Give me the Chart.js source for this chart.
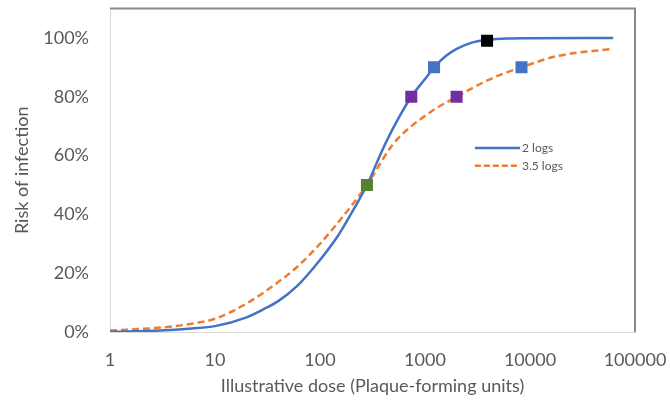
<!DOCTYPE html>
<html>
<head>
<meta charset="utf-8">
<script src="https://cdn.jsdelivr.net/npm/chart.js@4.4.0/dist/chart.umd.min.js"></script>
<style>
  html, body { margin: 0; padding: 0; background: #fff; }
  #wrap { width: 670px; height: 409px; }
</style>
</head>
<body>
<div id="wrap"><canvas id="riskChart" width="670" height="409"></canvas></div>
<script>
// dose-response curves (dose in PFU, risk as a fraction)
var doses2 = [1, 3, 6, 10, 20, 30, 40, 60, 100, 150, 200, 280, 400, 500, 740, 1000, 1220, 1600, 2000, 2800, 3900, 6000, 10000, 62000];
var risk2  = [0.001, 0.005, 0.012, 0.02, 0.05, 0.08, 0.105, 0.155, 0.245, 0.33, 0.405, 0.50, 0.625, 0.695, 0.80, 0.86, 0.90, 0.94, 0.963, 0.984, 0.993, 0.998, 0.999, 1.0];

var doses35 = [1, 3, 6, 10, 20, 40, 60, 100, 200, 280, 500, 1000, 2000, 4500, 8300, 18000, 62000];
var risk35  = [0.005, 0.015, 0.028, 0.045, 0.097, 0.17, 0.22, 0.30, 0.43, 0.50, 0.64, 0.735, 0.80, 0.865, 0.90, 0.938, 0.963];

// highlighted points
var markerDoses  = [280, 740, 1220, 3900, 2000, 8300];
var markerRisk   = [0.50, 0.80, 0.90, 0.99, 0.80, 0.90];
var markerColors = ['#548235', '#7030A0', '#4472C4', '#000000', '#7030A0', '#4472C4'];

var seriesNames = ['2 logs', '3.5 logs'];
var xTicks = [1, 10, 100, 1000, 10000, 100000];
var yTicks = [0, 0.2, 0.4, 0.6, 0.8, 1.0];

function pairs(xs, ys) {
  return xs.map(function (x, i) { return { x: x, y: ys[i] }; });
}

var textGray = '#595959';
var font18 = { family: 'Lato', size: 18 };

// legend drawn inside the plot, plus the darker top/right frame
var plotExtras = {
  id: 'plotExtras',
  afterDatasetsDraw: function (chart) {
    var ctx = chart.ctx, a = chart.chartArea;
    var w = a.right - a.left, h = a.bottom - a.top;
    ctx.save();
    ctx.strokeStyle = '#8a8a8a';
    ctx.lineWidth = 2;
    ctx.beginPath();
    ctx.moveTo(a.left, a.top);
    ctx.lineTo(a.right, a.top);
    ctx.lineTo(a.right, a.bottom);
    ctx.stroke();

    var lx0 = a.left + w * 0.695, lx1 = a.left + w * 0.781;
    var rows = [a.top + h * 0.431, a.top + h * 0.486];
    var styles = [
      { color: '#4472C4', dash: [] },
      { color: '#ED7D31', dash: [6, 3] }
    ];
    ctx.lineWidth = 2.5;
    ctx.font = '12px Lato';
    ctx.textBaseline = 'middle';
    ctx.fillStyle = textGray;
    rows.forEach(function (y, i) {
      ctx.strokeStyle = styles[i].color;
      ctx.setLineDash(styles[i].dash);
      ctx.beginPath();
      ctx.moveTo(lx0, y);
      ctx.lineTo(lx1, y);
      ctx.stroke();
      ctx.fillText(seriesNames[i], lx1 + 2, y);
    });
    ctx.restore();
  }
};

new Chart(document.getElementById('riskChart'), {
  type: 'scatter',
  data: {
    datasets: [{
      label: 'points',
      data: pairs(markerDoses, markerRisk),
      pointStyle: 'rect',
      pointRadius: 8.5,
      pointHoverRadius: 8.5,
      backgroundColor: markerColors,
      borderColor: markerColors,
      borderWidth: 0,
      showLine: false,
      order: 0
    }, {
      label: seriesNames[0],
      data: pairs(doses2, risk2),
      showLine: true,
      borderColor: '#4472C4',
      borderWidth: 2.5,
      pointRadius: 0,
      cubicInterpolationMode: 'monotone',
      order: 1
    }, {
      label: seriesNames[1],
      data: pairs(doses35, risk35),
      showLine: true,
      borderColor: '#ED7D31',
      borderWidth: 2.5,
      borderDash: [7, 4],
      pointRadius: 0,
      cubicInterpolationMode: 'monotone',
      order: 2
    }]
  },
  options: {
    responsive: false,
    animation: false,
    devicePixelRatio: 1,
    layout: { padding: { top: 5, right: 35, left: 0, bottom: 0 } },
    plugins: {
      legend: { display: false },
      tooltip: { enabled: false }
    },
    scales: {
      x: {
        type: 'logarithmic',
        min: 1,
        max: 100000,
        afterBuildTicks: function (scale) {
          scale.ticks = xTicks.map(function (v) { return { value: v }; });
        },
        afterFit: function (scale) {
          scale.height = 77;
          scale.paddingRight = 0;
        },
        grid: { display: false, drawTicks: false },
        border: { display: true, color: '#d9d9d9', width: 1 },
        ticks: {
          color: textGray,
          font: font18,
          padding: 17,
          maxRotation: 0,
          autoSkip: false,
          callback: function (v) { return String(v); }
        },
        title: {
          display: true,
          text: 'Illustrative dose (Plaque-forming units)',
          color: textGray,
          font: font18,
          padding: { top: 0, bottom: 12 }
        }
      },
      y: {
        min: 0,
        max: 1.1,
        afterBuildTicks: function (scale) {
          scale.ticks = yTicks.map(function (v) { return { value: v }; });
        },
        afterFit: function (scale) {
          scale.width = 110;
          scale.paddingTop = 0;
        },
        grid: { display: false, drawTicks: false },
        border: { display: true, color: '#d9d9d9', width: 1 },
        ticks: {
          color: textGray,
          font: font18,
          padding: 21,
          callback: function (v) { return Math.round(v * 100) + '%'; }
        },
        title: {
          display: true,
          text: 'Risk of infection',
          color: textGray,
          font: font18,
          padding: { top: 11, bottom: 0 }
        }
      }
    }
  },
  plugins: [plotExtras]
});
</script>
</body>
</html>
